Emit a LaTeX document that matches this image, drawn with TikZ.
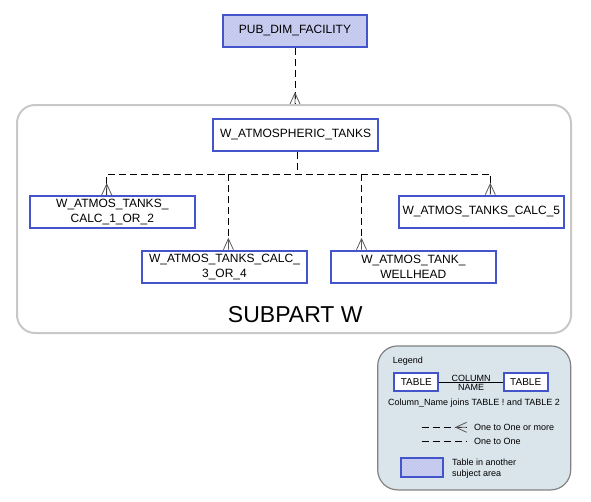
\documentclass[tikz,border=0pt]{standalone}
\usepackage{fontspec}
\setmainfont{Liberation Sans}
\usetikzlibrary{patterns}
\definecolor{tblblue}{RGB}{68,85,204}
\definecolor{hatchfill}{RGB}{204,208,242}
\definecolor{hatchline}{RGB}{186,192,234}
\definecolor{areagray}{RGB}{200,200,200}
\definecolor{legfill}{RGB}{218,228,235}
\definecolor{legline}{RGB}{130,130,130}
\tikzstyle{entity} = [rectangle, draw=tblblue, line width=2pt, fill=white,
    align=center, minimum width=165pt, minimum height=32pt, inner sep=1pt,
    font=\fontsize{12}{15}\selectfont]
\tikzstyle{other} = [entity, minimum width=144pt, preaction={fill=hatchfill},
    pattern=north east lines, pattern color=hatchline]

\begin{document}
\begin{tikzpicture}[x=1pt, y=-1pt,
area/.style = {draw=areagray, line width=2pt, rounded corners=18pt},
rel/.style = {draw, line width=0.9pt, dash pattern=on 7pt off 4pt},
foot/.style = {draw=black!65, line width=0.8pt},
pics/crowfoot/.style = {code={\draw[foot] (-5,0) -- (0,-11) -- (5,0) (0,0) -- (0,-11);}},
note/.style = {font=\fontsize{9}{11.5}\selectfont, inner sep=0pt}
                    ]
\useasboundingbox (0,0) rectangle (591,501);
% subject area
\node[area, minimum width=554pt, minimum height=228pt] (subpart) at (294,219) {};
\node[font=\fontsize{23}{26}\selectfont, anchor=base] (subname) at (295.3,322.5) {SUBPART W};
% tables
\node[other] (pub) at (295,30.9) {PUB\_DIM\_FACILITY};
\node[entity] (atmos) at (295.6,134.7) {W\_ATMOSPHERIC\_TANKS};
\node[entity] (calc12) at (112.3,212) {W\_ATMOS\_TANKS\_\\CALC\_1\_OR\_2};
\node[entity] (calc5) at (481.3,211.7) {W\_ATMOS\_TANKS\_CALC\_5};
\node[entity] (calc34) at (224.5,266.7) {W\_ATMOS\_TANKS\_CALC\_\\3\_OR\_4};
\node[entity] (wellhead) at (413.4,266.7) {W\_ATMOS\_TANK\_\\WELLHEAD};
% relations
\draw[rel] (pub.south) -- (pub.south |- subpart.north);
\pic at (pub.south |- subpart.north) {crowfoot};
\coordinate (bus) at (297.8,174);
\coordinate (f12) at ([xshift=-5.6pt]calc12.north);
\coordinate (f5) at ([xshift=9pt]calc5.north);
\coordinate (f34) at ([xshift=3.9pt]calc34.north);
\coordinate (fwh) at ([xshift=-51.9pt]wellhead.north);
\draw[rel] (atmos.south -| bus) -- (bus);
\draw[rel] (f12) |- (f5 |- bus) -- (f5);
\draw[rel] (f34 |- bus) -- (f34);
\draw[rel] (fwh |- bus) -- (fwh);
\foreach \f in {f12,f5,f34,fwh}
    \pic at (\f) {crowfoot};
% legend
\node[draw=legline, line width=1.2pt, fill=legfill, rounded corners=20pt,
    minimum width=193pt, minimum height=144pt] (legend) at (474.2,417.9) {};
\node[note, anchor=west] (legtitle) at (392.7,361) {Legend};
\node[entity, minimum width=44pt, minimum height=18pt, font=\fontsize{10}{12}\selectfont] (t1) at (416.3,382.3) {TABLE};
\node[entity, minimum width=44pt, minimum height=18pt, font=\fontsize{10}{12}\selectfont] (t2) at (525.7,382.3) {TABLE};
\draw[line width=0.8pt] (t1) -- node[note, above=0.5pt] {COLUMN} node[note, below=1.2pt] {NAME} (t2);
\node[note] (joins) at (474,403.3) {Column\_Name joins TABLE ! and TABLE 2};
\coordinate (m1a) at (421.7,427.3);
\coordinate (m1b) at (466.7,427.3);
\draw[rel] (m1a) -- (m1b);
\pic[rotate=90] at (m1b) {crowfoot};
\node[note, anchor=west] (m1text) at (474,427.3) {One to One or more};
\coordinate (m2a) at (421.7,441.3);
\coordinate (m2b) at (466.7,441.3);
\draw[rel] (m2a) -- (m2b);
\node[note, anchor=west] (m2text) at (474,441.3) {One to One};
\node[other, minimum width=42pt, minimum height=19.6pt] (hatch) at (421.7,467.5) {};
\node[note, anchor=west, align=left] (hatchtext) at (452,468.5) {Table in another\\subject area};
\end{tikzpicture}
\end{document}
